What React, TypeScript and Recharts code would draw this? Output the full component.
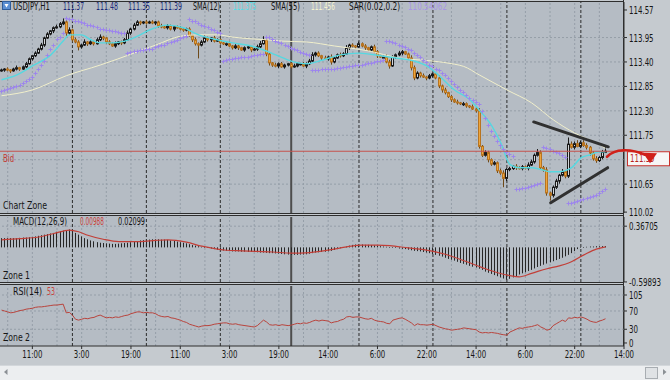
import React from 'react';
import { ComposedChart, Bar, Line, Scatter, XAxis, YAxis, ReferenceLine } from 'recharts';

const FONT = "'Liberation Sans Narrow','DejaVu Sans Condensed','Liberation Sans',Arial,sans-serif";

// ---------------- data (USDJPY H1) ----------------
const firstOpen = 113.2;
const closes = [
  113.22,113.24,113.22,113.20,113.24,113.27,113.24,113.29,113.36,113.47,
  113.54,113.60,113.69,113.78,113.94,114.03,114.10,114.17,114.19,114.26,
  114.30,114.05,114.12,113.90,113.85,113.74,113.78,113.85,113.81,113.85,
  113.81,113.90,113.96,113.94,113.85,113.81,113.76,113.81,113.85,113.83,
  113.90,114.05,114.14,114.23,114.30,114.28,114.30,114.28,114.30,114.28,
  114.30,114.21,114.19,114.17,114.21,114.14,114.19,114.17,114.14,114.12,
  114.14,113.99,113.90,113.81,113.78,113.85,113.94,113.90,113.94,113.87,
  113.90,113.83,113.81,113.81,113.76,113.72,113.76,113.72,113.67,113.72,
  113.74,113.67,113.69,113.74,113.81,113.90,113.58,113.38,113.33,113.31,
  113.36,113.29,113.33,113.36,113.29,113.31,113.36,113.36,113.31,113.36,
  113.42,113.56,113.60,113.54,113.49,113.47,113.51,113.40,113.49,113.56,
  113.54,113.58,113.72,113.78,113.76,113.74,113.81,113.76,113.72,113.67,
  113.74,113.63,113.54,113.51,113.51,113.40,113.31,113.51,113.56,113.60,
  113.63,113.58,113.49,113.27,113.04,113.15,113.09,113.06,113.04,113.09,
  113.13,113.04,112.86,112.77,112.71,112.62,112.55,112.50,112.48,112.46,
  112.46,112.41,112.39,112.34,112.30,111.50,111.30,111.36,111.20,111.10,
  111.13,110.95,110.90,110.78,110.98,111.00,111.05,111.02,111.00,111.04,
  111.01,111.08,111.15,111.30,111.36,111.02,110.97,110.45,110.40,110.58,
  110.72,110.85,110.93,110.83,111.55,111.48,111.56,111.50,111.58,111.52,
  111.48,111.35,111.22,111.18,111.25,111.37,111.39,
];
// wick lengths in pips (0.01)
const upperWicks = [
  3,2,4,2,3,5,2,3,4,3,2,4,3,5,3,4,2,3,5,4,
  8,4,6,3,5,4,3,6,2,4,3,5,6,3,2,4,3,5,2,3,
  4,6,3,5,4,3,2,5,3,4,2,3,5,2,4,3,2,3,4,2,
  3,4,2,5,3,4,6,3,2,5,3,4,2,3,5,2,4,3,2,3,
  4,2,3,5,6,8,3,4,2,5,3,4,3,2,4,5,3,2,4,3,
  5,6,3,4,2,5,3,6,4,3,5,4,6,3,4,2,5,3,4,2,
  3,5,4,2,3,6,5,4,3,5,4,2,3,6,5,4,3,5,2,4,
  3,4,6,3,5,2,4,3,5,2,4,3,2,5,4,6,3,5,4,3,
  4,3,5,6,3,4,2,5,3,4,3,6,5,4,8,5,4,6,3,4,
  5,3,6,4,15,6,5,8,4,6,5,3,4,6,3,5,9,
];
const lowerWicks = [
  2,4,3,5,2,3,4,2,3,2,4,3,2,3,4,2,3,5,2,3,
  3,6,4,5,3,8,4,2,5,3,4,2,3,5,4,3,2,4,3,5,
  3,2,4,3,2,5,3,4,2,3,5,4,3,2,4,3,5,2,3,4,
  3,2,5,4,30,3,2,4,5,3,2,4,3,5,2,4,3,5,2,4,
  3,5,2,4,3,2,5,6,4,3,5,2,4,3,5,2,3,4,2,5,
  3,2,4,3,5,2,4,6,3,2,4,3,2,5,3,4,2,3,5,2,
  4,3,5,2,4,3,6,2,4,3,5,2,4,6,5,3,4,2,5,3,
  4,3,5,6,4,3,5,2,4,3,5,4,3,2,4,5,4,3,6,4,
  3,5,4,20,6,4,3,5,2,4,3,5,2,4,3,5,4,6,12,5,
  4,6,3,5,4,3,5,2,4,3,5,6,4,5,3,4,2,
];
const sarValues = [
  112.73,112.75,112.77,112.80,112.82,112.84,112.86,112.91,112.95,113.00,113.06,113.13,113.22,113.31,113.42,113.54,113.67,113.78,113.90,113.96,114.03,
  114.37,114.36,114.35,114.32,114.30,114.28,114.26,114.23,114.21,114.19,114.17,114.14,114.12,114.11,114.10,114.09,114.08,114.07,114.05,114.04,
  113.60,113.62,113.63,113.64,113.65,113.66,113.67,113.68,113.69,113.72,113.74,113.76,113.78,113.81,113.83,113.85,113.88,113.92,113.94,113.97,
  114.35,114.32,114.30,114.27,114.23,114.20,114.17,114.13,114.10,114.06,114.03,
  113.42,113.44,113.45,113.46,113.47,113.48,113.49,113.50,113.51,113.52,113.54,113.55,113.56,113.57,
  113.96,113.94,113.91,113.87,113.84,113.81,113.77,113.74,113.71,113.67,113.65,113.62,113.58,113.56,113.54,
  113.20,113.20,113.21,113.22,113.22,113.23,113.24,113.24,113.25,113.26,113.27,113.28,113.29,113.30,113.31,113.32,113.33,113.35,113.36,113.37,113.39,113.40,113.42,113.43,
  113.87,113.85,113.83,113.81,113.78,113.75,113.72,113.68,113.65,113.60,113.55,113.49,113.44,113.38,113.33,113.29,113.24,113.20,113.14,113.09,113.02,112.95,112.89,112.82,112.75,112.71,112.64,112.58,112.53,112.48,112.44,112.28,112.12,111.96,111.83,111.72,111.60,111.51,111.42,111.36,111.31,111.27,
  110.53,110.54,110.55,110.56,110.57,110.59,110.62,110.64,110.66,
  111.47,111.45,111.42,111.39,111.36,111.33,111.29,111.26,
  110.21,110.22,110.23,110.25,110.28,110.30,110.32,110.35,110.37,110.40,110.44,110.48,110.54,
];
const sma12Points = [
  [0,113.00],[5,113.11],[10,113.31],[16,113.56],[20,113.87],[22,114.01],[26,114.01],[29,113.90],[32,113.83],[36,113.83],
  [40,113.87],[45,114.01],[48,114.12],[54,114.23],[59,114.17],[64,114.01],[70,113.90],[75,113.83],[81,113.76],[85,113.67],
  [89,113.56],[94,113.42],[99,113.36],[103,113.42],[110,113.56],[116,113.60],[123,113.54],[128,113.49],[134,113.42],[138,113.31],
  [142,113.09],[147,112.77],[152,112.55],[155,112.32],[159,111.97],[162,111.58],[165,111.09],[168,111.02],[172,111.02],[175,110.98],
  [178,110.93],[181,110.93],[185,111.02],[188,111.24],[191,111.31],[194,111.38],[196,111.375],
];
const sma55Points = [
  [0,112.64],[10,112.77],[21,113.09],[32,113.33],[43,113.60],[50,113.78],[59,113.99],[64,114.01],[70,114.01],[75,113.96],
  [81,113.92],[86,113.90],[91,113.87],[99,113.85],[108,113.76],[119,113.65],[129,113.49],[140,113.42],[147,113.35],[150,113.30],
  [155,113.11],[164,112.77],[172,112.48],[179,112.10],[186,111.80],[194,111.54],[196,111.456],
];
const macdValues = [
  0.16,0.16,0.16,0.16,0.16,0.16,0.165,0.17,0.17,0.175,0.18,
  0.19,0.20,0.21,0.22,0.23,0.24,0.25,0.27,0.28,0.29,0.30,0.31,
  0.28,0.25,0.22,0.19,0.16,0.14,0.12,0.105,0.09,0.08,
  0.075,0.07,0.065,0.06,0.06,0.065,0.07,0.075,0.08,
  0.09,0.10,0.11,0.12,0.125,0.13,0.135,0.14,
  0.14,0.14,0.135,0.135,0.13,0.12,0.11,0.10,0.09,
  0.08,0.07,0.055,0.04,0.03,0.02,0.01,0.00,-0.01,
  -0.02,-0.03,-0.04,-0.05,-0.055,-0.06,-0.065,-0.07,
  -0.07,-0.07,-0.075,-0.075,-0.08,-0.08,-0.08,
  -0.085,-0.09,-0.09,-0.095,-0.10,-0.10,
  -0.105,-0.11,-0.115,-0.12,-0.125,-0.13,
  -0.13,-0.13,-0.125,-0.125,-0.12,
  -0.11,-0.10,-0.09,-0.085,-0.08,-0.075,-0.07,-0.06,
  -0.045,-0.03,-0.015,0.0,0.015,0.03,0.04,0.05,
  0.05,0.05,0.045,0.045,0.04,
  0.035,0.03,0.02,0.015,0.01,0.0,
  -0.005,-0.01,-0.02,-0.025,-0.03,-0.04,-0.05,
  -0.06,-0.065,-0.07,-0.08,-0.09,-0.10,
  -0.115,-0.13,-0.145,-0.16,-0.18,
  -0.20,-0.215,-0.23,-0.25,-0.27,
  -0.285,-0.30,-0.32,-0.335,-0.35,-0.37,-0.39,
  -0.42,-0.44,-0.46,-0.48,
  -0.50,-0.52,-0.54,-0.56,
  -0.545,-0.52,-0.50,-0.47,
  -0.45,-0.43,-0.41,-0.39,-0.365,-0.34,
  -0.32,-0.30,-0.28,-0.26,-0.24,-0.22,
  -0.20,-0.18,-0.155,-0.13,-0.10,
  -0.065,-0.03,0.0,
  0.005,0.01,0.015,0.015,0.02,0.02,0.021,0.021,
];
const signalPoints = [
  [0,0.13],[6,0.15],[12,0.18],[17,0.24],[22,0.30],[25,0.27],[28,0.21],[33,0.14],[38,0.10],[45,0.10],
  [50,0.12],[54,0.13],[60,0.09],[65,0.02],[70,-0.03],[73,-0.05],[78,-0.06],[83,-0.07],[88,-0.08],[94,-0.10],
  [100,-0.09],[107,-0.04],[112,0.01],[117,0.04],[122,0.04],[126,0.03],[132,-0.01],[137,-0.04],[144,-0.12],[151,-0.25],
  [156,-0.35],[161,-0.44],[165,-0.49],[168,-0.51],[172,-0.45],[177,-0.37],[181,-0.32],[184,-0.27],[189,-0.13],[193,-0.03],
  [196,0.00988],
];
const rsiValues = [
  72,70,68,66,67,69,71,72,74,75,
  76,78,79,79,80,81,82,83,83,84,
  85,66,67,61,52,50,52,54,53,55,
  56,59,61,58,55,56,55,57,56,58,
  60,61,64,66,68,68,66,67,66,66,
  64,60,58,57,58,55,54,52,50,47,
  45,41,39,37,35,37,38,38,39,41,
  42,43,44,44,42,41,42,40,39,38,
  37,36,35,38,44,50,46,40,39,40,
  38,40,39,38,39,41,43,42,44,43,
  45,48,50,48,50,49,48,44,46,47,
  50,52,57,58,56,57,57,55,53,52,
  54,50,48,47,46,43,42,50,52,54,
  55,52,48,44,38,42,40,40,39,40,
  41,38,35,33,31,30,28,29,30,31,
  33,32,31,30,29,24,22,23,22,23,
  22,21,19,18,17,24,27,30,33,32,
  34,35,36,38,40,35,32,28,30,38,
  42,46,50,47,55,54,56,55,57,55,
  52,48,46,45,48,50,53,
];
const timeTicks = [10, 26, 42, 58, 74, 90, 106, 122, 138, 154, 170, 186, 202];
const timeLabels = ['11:00','3:00','19:00','11:00','3:00','19:00','14:00','6:00','22:00','14:00','6:00','22:00','14:00'];
// 111.20 is hidden under the bid price box in the reference, so only its grid line is drawn
const priceTicks = [110.02, 110.65, 111.75, 112.3, 112.85, 113.4, 113.95, 114.57];
const priceGrid = [110.65, 111.2, 111.75, 112.3, 112.85, 113.4, 113.95];
const macdTicks = [-0.59893, 0.36705];
const rsiTicks = [0, 30, 70, 105];
const gridCols = [2,10,18,26,34,42,50,58,66,74,82,90,98,106,114,122,130,138,146,154,162,170,178,186,194];
const dayLines = [23, 47, 71, 116, 140, 164, 188];
const weekLine = 94;
const bidPrice = 111.39;
const upperTrend = [{ x: 172.7, y: 112.05 }, { x: 196.9, y: 111.49 }];
const lowerTrend = [{ x: 178.2, y: 110.23 }, { x: 196.7, y: 111.02 }];

// ---------------- tables ----------------
const ROWS: any[] = closes.map((c, i) => {
  const o = i === 0 ? firstOpen : closes[i - 1];
  const h = Math.max(o, c) + upperWicks[i] / 100;
  const l = Math.min(o, c) - lowerWicks[i] / 100;
  return { i, o, h, l, c, range: [l, h], sar: sarValues[i], sma12: null, sma55: null };
});
sma12Points.forEach(([i, v]) => { ROWS[i].sma12 = v; });
sma55Points.forEach(([i, v]) => { ROWS[i].sma55 = v; });
const IND: any[] = macdValues.map((m, i) => ({ i, macd: m, rsi: rsiValues[i], signal: null }));
signalPoints.forEach(([i, v]) => { IND[i].signal = v; });

const X_DOMAIN: [number, number] = [-0.5, 202];

// ---------------- helpers ----------------
const charW = (s: string) =>
  [...s].reduce((a, ch) => a + (ch === '.' || ch === ':' ? 2.1 : ch === '-' ? 3 : 4.5), 0);

const makeYTick = (fmt: (v: number) => string) => (p: any) => {
  const s = fmt(p.payload.value);
  return (
    <text x={p.x} y={p.y + 4} fontSize={10.5} fill="#161616" fontFamily={FONT}
      textLength={charW(s)} lengthAdjust="spacingAndGlyphs">{s}</text>
  );
};
const timeTick = (p: any) => {
  const idx = timeTicks.indexOf(p.payload.value);
  const s = timeLabels[idx] ?? '';
  const w = charW(s);
  return (
    <text x={p.x - w / 2} y={p.y + 7} fontSize={10.5} fill="#161616" fontFamily={FONT}
      textLength={w} lengthAdjust="spacingAndGlyphs">{s}</text>
  );
};

function Candle(props: any) {
  const { x, y, width, height, index } = props;
  const row = props.payload && props.payload.h !== undefined ? props.payload : ROWS[index];
  if (!row || x == null || y == null) return null;
  const top = Math.min(y, y + height);
  const bot = Math.max(y, y + height);
  const span = row.h - row.l || 1e-9;
  const py = (v: number) => top + ((row.h - v) / span) * (bot - top);
  const cx = Math.floor(x + width / 2) + 0.5;
  const up = row.c >= row.o;
  const bTop = py(Math.max(row.o, row.c));
  const bBot = py(Math.min(row.o, row.c));
  const bh = Math.max(1, bBot - bTop);
  return (
    <g>
      <line x1={cx} x2={cx} y1={top} y2={bot} stroke={up ? '#1a1a1a' : '#6e4a1a'} strokeWidth={1} />
      <rect x={cx - 1} y={bTop} width={2} height={bh} fill={up ? '#d3d6d9' : '#eda53c'}
        stroke={up ? '#1a1a1a' : '#b87420'} strokeWidth={1} />
    </g>
  );
}

function HistBar(props: any) {
  const { x, y, width, height } = props;
  if (x == null || y == null) return null;
  const top = Math.min(y, y + height);
  const h = Math.abs(height);
  return <rect x={Math.floor(x + width / 2)} y={top} width={1} height={Math.max(h, 0.6)} fill="#262626" />;
}

function SarCross(props: any) {
  const { cx, cy } = props;
  if (cx == null || cy == null) return null;
  const px = Math.floor(cx) + 0.5;
  const py = Math.floor(cy) + 0.5;
  return (
    <g stroke="#9d86ec" strokeWidth={1}>
      <line x1={px - 2} x2={px + 2} y1={py} y2={py} />
      <line x1={px} x2={px} y1={py - 2} y2={py + 2} />
    </g>
  );
}

const renderBid = (props: any) => {
  const vb = props.viewBox || {};
  const x0 = vb.x ?? 0;
  const y0 = vb.y ?? 0;
  const r = x0 + (vb.width ?? 0);
  const s = bidPrice.toFixed(2);
  return (
    <g>
      <text x={x0 + 3} y={y0 + 10.5} fontSize={10} fill="#c23a33" fontFamily={FONT}
        textLength={11} lengthAdjust="spacingAndGlyphs">Bid</text>
      <rect x={r + 3.5} y={y0 + 0.5} width={42} height={14} fill="#f6f6f6" stroke="#c8322c" strokeWidth={1} />
      <text x={r + 6} y={y0 + 11} fontSize={10.5} fill="#b8241e" fontFamily={FONT}
        textLength={charW(s)} lengthAdjust="spacingAndGlyphs">{s}</text>
      <path d={`M ${r - 17} ${y0 + 5.5} C ${r - 9} ${y0 - 2.5}, ${r + 6} ${y0 - 3}, ${r + 21} ${y0 + 3.5}`}
        stroke="#d0201a" strokeWidth={2.6} fill="none" strokeLinecap="round" />
      <polygon points={`${r + 19},${y0 + 1.5} ${r + 33},${y0 + 2} ${r + 26},${y0 + 12}`} fill="#d0201a" />
    </g>
  );
};

const vGrid = (k: string) =>
  gridCols.map((v) => (
    <ReferenceLine key={k + 'g' + v} x={v} stroke="#959ea8" strokeDasharray="2 2" zIndex={-90} />
  ));
const vDays = (k: string) => [
  ...dayLines.map((v) => (
    <ReferenceLine key={k + 'd' + v} x={v} stroke="#2c2c2c" strokeDasharray="3 2" zIndex={-80} />
  )),
  <ReferenceLine key={k + 'w'} x={weekLine} stroke="#4d4d4d" strokeWidth={2} zIndex={-80} />,
];

function T({ x, y, w, c = '#151515', s = 10, children }: any) {
  return (
    <text x={x} y={y} fill={c} fontSize={s} fontFamily={FONT} textLength={w} lengthAdjust="spacingAndGlyphs">
      {children}
    </text>
  );
}

const PLOT_BG = '#b5bcc4';
const OUTER_BG = '#c5cacf';

export default function App() {
  return (
    <div style={{ position: 'absolute', left: 0, top: 0, width: 670, height: 380, overflow: 'hidden', background: OUTER_BG }}>
      {/* panel backgrounds */}
      <div style={{ position: 'absolute', left: 0, top: 1, width: 624, height: 213, boxSizing: 'border-box', background: PLOT_BG, borderTop: '1px solid #2e2e2e', borderBottom: '1px solid #2e2e2e' }} />
      <div style={{ position: 'absolute', left: 0, top: 215, width: 624, height: 68, boxSizing: 'border-box', background: PLOT_BG, borderTop: '1px solid #2e2e2e', borderBottom: '1px solid #2e2e2e' }} />
      <div style={{ position: 'absolute', left: 0, top: 284, width: 624, height: 62, boxSizing: 'border-box', background: PLOT_BG, borderTop: '1px solid #2e2e2e' }} />
      <div style={{ position: 'absolute', left: 623, top: 0, width: 1, height: 346, background: '#2e2e2e' }} />

      {/* main price chart */}
      <div style={{ position: 'absolute', left: 0, top: 0 }}>
        <ComposedChart width={670} height={222} data={ROWS} margin={{ top: 2, right: 0, bottom: 9, left: 0 }}>
          <XAxis type="number" dataKey="i" domain={X_DOMAIN} allowDataOverflow hide />
          <YAxis orientation="right" width={46} domain={[110.0, 114.75]} allowDataOverflow ticks={priceTicks}
            interval={0} tickSize={3} axisLine={{ stroke: '#2e2e2e' }} tickLine={{ stroke: '#2e2e2e' }}
            tick={makeYTick((v) => v.toFixed(2))} />
          {priceGrid.map((v) => (
            <ReferenceLine key={'pg' + v} y={v} stroke="#959ea8" strokeDasharray="2 2" zIndex={-90} />
          ))}
          {vGrid('m')}
          {vDays('m')}
          <Bar dataKey="range" barSize={3} shape={Candle} isAnimationActive={false} zIndex={300} />
          <Line dataKey="sma55" type="monotone" connectNulls stroke="#f1efcb" strokeWidth={1} dot={false}
            activeDot={false} isAnimationActive={false} zIndex={400} />
          <Line dataKey="sma12" type="monotone" connectNulls stroke="#56d8e0" strokeWidth={1.4} dot={false}
            activeDot={false} isAnimationActive={false} zIndex={400} />
          <Scatter dataKey="sar" shape={SarCross} isAnimationActive={false} zIndex={600} />
          <ReferenceLine y={bidPrice} stroke="#c5534d" strokeWidth={1} label={renderBid} zIndex={650} />
          <ReferenceLine segment={upperTrend} stroke="#303030" strokeWidth={3} strokeLinecap="round" zIndex={700} />
          <ReferenceLine segment={lowerTrend} stroke="#303030" strokeWidth={3} strokeLinecap="round" zIndex={700} />
        </ComposedChart>
      </div>

      {/* MACD */}
      <div style={{ position: 'absolute', left: 0, top: 215 }}>
        <ComposedChart width={670} height={76} data={IND} margin={{ top: 2, right: 0, bottom: 9, left: 0 }}>
          <XAxis type="number" dataKey="i" domain={X_DOMAIN} allowDataOverflow hide />
          <YAxis orientation="right" width={46} domain={[-0.6, 0.526]} allowDataOverflow ticks={macdTicks}
            interval={0} tickSize={3} axisLine={{ stroke: '#2e2e2e' }} tickLine={{ stroke: '#2e2e2e' }}
            tick={makeYTick((v) => String(v))} />
          <ReferenceLine y={0.36705} stroke="#959ea8" strokeDasharray="2 2" zIndex={-90} />
          {vGrid('a')}
          {vDays('a')}
          <Bar dataKey="macd" barSize={1} shape={HistBar} isAnimationActive={false} zIndex={300} />
          <Line dataKey="signal" type="monotone" connectNulls stroke="#c23f38" strokeWidth={1.2} dot={false}
            activeDot={false} isAnimationActive={false} zIndex={400} />
        </ComposedChart>
      </div>

      {/* RSI */}
      <div style={{ position: 'absolute', left: 0, top: 284 }}>
        <ComposedChart width={670} height={86} data={IND} margin={{ top: 2, right: 0, bottom: 0, left: 0 }}>
          <XAxis type="number" dataKey="i" domain={X_DOMAIN} allowDataOverflow ticks={timeTicks} interval={0}
            height={24} tickSize={3} axisLine={{ stroke: '#2e2e2e' }} tickLine={{ stroke: '#2e2e2e' }} tick={timeTick} />
          <YAxis orientation="right" width={46} domain={[-6.6, 124.7]} allowDataOverflow ticks={rsiTicks}
            interval={0} tickSize={3} axisLine={{ stroke: '#2e2e2e' }} tickLine={{ stroke: '#2e2e2e' }}
            tick={makeYTick((v) => String(v))} />
          {[30, 70, 105].map((v) => (
            <ReferenceLine key={'rg' + v} y={v} stroke="#959ea8" strokeDasharray="2 2" zIndex={-90} />
          ))}
          {vGrid('r')}
          {vDays('r')}
          <Line dataKey="rsi" type="linear" stroke="#b9443d" strokeWidth={1} dot={false}
            activeDot={false} isAnimationActive={false} zIndex={400} />
        </ComposedChart>
      </div>

      {/* scrollbar */}
      <div style={{ position: 'absolute', left: 0, top: 365, width: 670, height: 15, boxSizing: 'border-box', background: '#eceef0', borderTop: '1px solid #d3d7db' }} />

      {/* text overlay */}
      <svg width={670} height={380} style={{ position: 'absolute', left: 0, top: 0, pointerEvents: 'none' }}>
        <rect x={2.5} y={1.5} width={8} height={8} fill="#5b8fd2" stroke="#2f5d9a" />
        <polygon points="4.5,4 8.5,4 6.5,7.5" fill="#ffffff" />
        <T x={13} y={10} w={37}>USDJPY,H1</T>
        <T x={63} y={10} w={21} c="#1d2a7a">111.37</T>
        <T x={96} y={10} w={22} c="#1d2a7a">111.48</T>
        <T x={128} y={10} w={22} c="#1d2a7a">111.35</T>
        <T x={160} y={10} w={22} c="#1d2a7a">111.39</T>
        <T x={193} y={10} w={27}>SMA(12)</T>
        <T x={233} y={10} w={23} c="#58dde6">111.375</T>
        <T x={271} y={10} w={29}>SMA(55)</T>
        <T x={311} y={10} w={24} c="#f3f1cf">111.456</T>
        <T x={349} y={10} w={51}>SAR(0.02,0.2)</T>
        <T x={408} y={10} w={39} c="#a996e6">110.54062</T>
        <T x={3} y={209} w={44}>Chart Zone</T>
        <T x={13} y={225} w={54}>MACD(12,26,9)</T>
        <T x={80} y={225} w={24} c="#c9433c">0.00988</T>
        <T x={118} y={225} w={27}>0.02099</T>
        <T x={3} y={279} w={27}>Zone 1</T>
        <T x={13} y={295} w={29}>RSI(14)</T>
        <T x={47} y={295} w={8} c="#c9433c">53</T>
        <T x={3} y={341} w={27}>Zone 2</T>
        <polygon points="4,372 7.5,369 7.5,375" fill="#8b9095" />
        <rect x={645.5} y={367.5} width={12} height={11} fill="#dfe2e5" stroke="#a8adb2" />
        <polygon points="663,369 666.5,372 663,375" fill="#8b9095" />
      </svg>
    </div>
  );
}
